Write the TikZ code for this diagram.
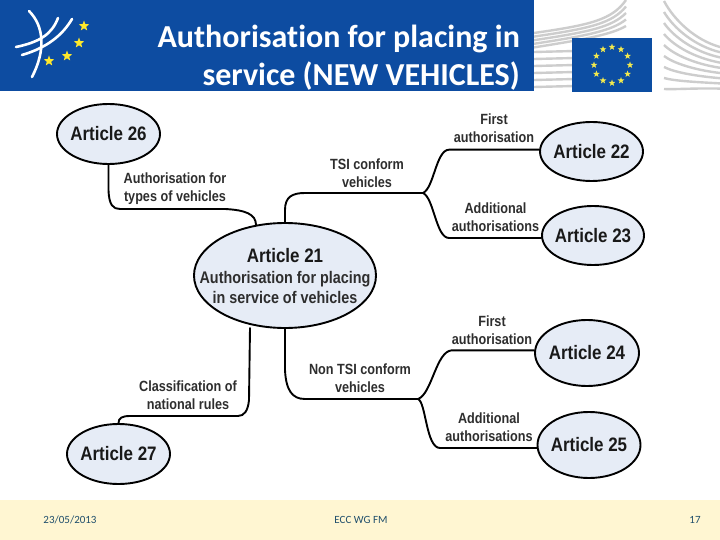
\documentclass[tikz,border=0pt]{standalone}
\usepackage{fontspec}
\setmainfont{Liberation Sans}
\newfontfamily\titlefont[Ligatures=NoCommon]{Carlito}
\newfontfamily\artfont[FakeStretch=0.87,BoldFont={Liberation Sans Bold}]{Liberation Sans}
\newfontfamily\labfont[FakeStretch=0.855,BoldFont={Liberation Sans Bold}]{Liberation Sans}
\usetikzlibrary{shapes.geometric,calc}
\definecolor{hdrblue}{HTML}{0D4CA1}
\definecolor{flagblue}{HTML}{0C4DA2}
\definecolor{ellfill}{HTML}{E6ECF6}
\definecolor{footbg}{HTML}{FFF6D2}
\definecolor{foottxt}{HTML}{1F4E6B}
\definecolor{stary}{HTML}{FFE92B}
\definecolor{flagstar}{HTML}{F2E94E}
\definecolor{bldg}{HTML}{CDCDCD}
\newcommand{\arttext}[1]{\makebox[0pt]{#1}}
\tikzset{
 x=1pt,y=-1pt,
 art/.style={ellipse,draw=black,line width=1.9pt,fill=ellfill,inner sep=0pt,
   font=\artfont\fontsize{19.5}{20}\selectfont\bfseries,text=black!90},
 lab/.style={align=center,inner sep=0pt,yshift=0.8pt,font=\labfont\fontsize{14.8}{18}\selectfont\bfseries,text=black!82},
 conn/.style={line width=1.9pt,draw=black,line cap=round},
 ttl/.style={anchor=base east,inner sep=0pt,text=white,font=\titlefont\fontsize{32}{36}\selectfont\bfseries},
 foot/.style={inner sep=0pt,text=foottxt,font=\titlefont\fontsize{11}{12}\selectfont},
 ystar/.style={star,star points=5,star point ratio=2.4,fill=#1,inner sep=0pt},
 logoline/.style={draw=white,line width=2.6pt,line cap=round},
 bl/.style={draw=bldg,line width=2.4pt}
}
\begin{document}
\begin{tikzpicture}
\useasboundingbox (0,0) rectangle (720,540);
\fill[white] (0,0) rectangle (720,540);
% building graphic left
\foreach \i in {0,1,2,3,4}{
  \draw[bl] (534,{33+\i*3.6}) .. controls (590,{25+\i*3.4}) and (612,{20+\i*3.5}) .. (626,{\i*6.5});
}
\foreach \yy in {52,59,66,73,80,87}{
  \draw[bl] (534,\yy) -- (575,{\yy-1});
}
% building graphic right
\foreach \i in {0,1,2,3,4,5,6,7,8}{
  \draw[bl] (664,{1+\i*11}) .. controls (674,{20+\i*8.7}) and (695,{40+\i*6}) .. (720,{47+\i*5.2});
}
% header
\fill[hdrblue] (0,0) rectangle (534,91);
% flag
\fill[flagblue] (572,38) rectangle (652,92);
\foreach \a in {0,30,...,330}{
  \node[ystar=flagstar,minimum size=7pt] at ($(612,65)+(\a:18)$) {};
}
% logo
\draw[logoline] (29,11) .. controls (44,26) and (46,50) .. (32,77);
\draw[logoline] (58,18) .. controls (52,34) and (40,42) .. (16,47);
\draw[logoline] (72,19) .. controls (62,36) and (46,48) .. (22,55);
\node[ystar=stary,minimum size=11pt] at (84,26) {};
\node[ystar=stary,minimum size=11pt] at (79,43) {};
\node[ystar=stary,minimum size=11pt] at (67,56) {};
\node[ystar=stary,minimum size=11pt] at (49,61) {};
% title
\node[ttl] (t1) at (520,48) {Authorisation for placing in};
\node[ttl] (t2) at (520,86) {service (NEW VEHICLES)};
% footer
\fill[footbg] (0,500) rectangle (720,540);
\node[foot] (fd) at (70,520) {23/05/2013};
\node[foot] (fc) at (361,520) {ECC WG FM};
\node[foot] (fn) at (695,520) {17};
% connectors
\coordinate (j1) at (423,193);
\coordinate (j2) at (418,399);
\path (108.5,134) node[art,minimum width=103pt,minimum height=60pt] (a26) {\arttext{Article 26}};
\path (591.5,151.5) node[art,minimum width=103pt,minimum height=59pt] (a22) {\arttext{Article 22}};
\path (593,235.5) node[art,minimum width=102pt,minimum height=59pt] (a23) {\arttext{Article 23}};
\path (587,353) node[art,minimum width=104pt,minimum height=66pt] (a24) {\arttext{Article 24}};
\path (589,445) node[art,minimum width=103pt,minimum height=66pt] (a25) {\arttext{Article 25}};
\path (118.5,454) node[art,minimum width=103pt,minimum height=60pt] (a27) {\arttext{Article 27}};
\draw[conn] (a26.south) -- (108.5,190) .. controls (109,205) and (113,209) .. (120,209)
  -- (225,209) .. controls (245,210) and (256,214) .. (256,225);
\draw[conn] (285,223) -- (285,210) .. controls (285,197) and (292,193) .. (305,193) -- (j1);
\draw[conn] (j1) .. controls (434,188) and (436,150) .. (449,149.7) -- ($(a22.west)+(0,-1.8)$);
\draw[conn] (j1) .. controls (434,198) and (436,238) .. (449,238) -- ($(a23.west)+(0,2.5)$);
\draw[conn] (250,328) -- (249,400) .. controls (248,411) and (244,416) .. (238,416)
  -- (130,416) .. controls (122,416) and (118.5,418) .. (a27.north);
\draw[conn] (285,328) -- (285,370) .. controls (286,390) and (292,399) .. (305,399) -- (j2);
\draw[conn] (j2) .. controls (432,394) and (436,351) .. (452,350.3) -- ($(a24.west)+(0,-2.7)$);
\draw[conn] (j2) .. controls (426,402) and (426,448) .. (440,448) -- ($(a25.west)+(0,3)$);
\path (285,275.5) node[art,minimum width=182pt,minimum height=105pt] (a21) {};
% article 21 text
\node[inner sep=0pt,font=\artfont\fontsize{19.5}{20}\selectfont\bfseries,text=black!90] (a21t) at (285,256) {Article 21};
\node[lab,font=\labfont\fontsize{16.8}{20}\selectfont\bfseries] (a21s) at (285,288) {Authorisation for placing\\in service of vehicles};
% labels
\node[lab] (l1) at (175,189) {Authorisation for\\types of vehicles};
\node[lab] (l2) at (367,174) {TSI conform\\vehicles};
\node[lab] (l3) at (494,129) {First\\authorisation};
\node[lab] (l4) at (495.5,218) {Additional\\authorisations};
\node[lab] (l5) at (188,396) {Classification of\\national rules};
\node[lab] (l6) at (360,379) {Non TSI conform\\vehicles};
\node[lab] (l7) at (492,331) {First\\authorisation};
\node[lab] (l8) at (489,428) {Additional\\authorisations};
\end{tikzpicture}
\end{document}
